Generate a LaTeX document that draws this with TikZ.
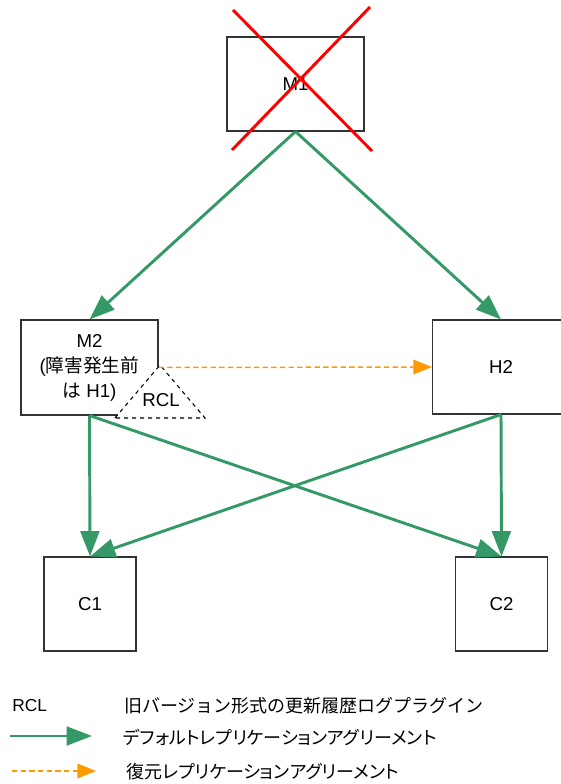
\documentclass[tikz,border=0pt]{standalone}
\usepackage{fontspec}
\setmainfont{Liberation Sans}
\newfontfamily\jpfont[RawFeature=+palt]{Noto Sans CJK JP}
\newfontfamily\jpfontwide{Noto Sans CJK JP}
\usetikzlibrary{arrows.meta}
\definecolor{replgreen}{RGB}{52,153,102}
\definecolor{restoreorange}{RGB}{255,153,0}
\tikzset{
  server/.style={draw=black!80, line width=0.8pt, fill=white, align=center, inner sep=0pt,
    font=\fontsize{14}{18.75}\selectfont},
  repl/.style={-{Triangle[length=19pt, width=14pt]}, draw=replgreen, line width=2.2pt},
  restore/.style={-{Triangle[length=14pt, width=11pt]}, draw=restoreorange, line width=1.1pt, dash pattern=on 4pt off 2.5pt},
  keytext/.style={anchor=west, inner sep=0pt, font=\fontsize{13.5}{16}\selectfont},
}

\begin{document}
\begin{tikzpicture}[x=0.75pt, y=-0.75pt, font=\fontsize{13}{18.75}\selectfont]
  \useasboundingbox (0,0) rectangle (560,784);

  % Servers
  \node[server, minimum width=102.75pt, minimum height=70.5pt] (m1) at (295.5,84) {M1};
  \node[server, minimum width=102.75pt, minimum height=71.25pt] (m2) at (89.5,367.5)
    {M2\\({\jpfontwide 障害発生前}\\{\jpfontwide は} H1)};
  \node[server, minimum width=102.75pt, minimum height=70.5pt] (h2) at (501,367) {H2};
  \node[server, minimum width=69pt, minimum height=70.5pt] (c1) at (90,604) {C1};
  \node[server, minimum width=69pt, minimum height=70.5pt] (c2) at (501.5,604) {C2};

  % M1 is down
  \draw[red, line width=2.2pt] (233,10) -- (372,151);
  \draw[red, line width=2.2pt] (370,7) -- (232,150);

  % RCL plug-in on M2
  \draw[dashed, fill=white, line width=0.8pt] (115,418) -- (160,365) -- (205,418) -- cycle;
  \node[font=\fontsize{14}{16}\selectfont] (rcl) at (161,400) {RCL};

  % Default replication agreements
  \draw[repl] (m1.south) -- (m2.north);
  \draw[repl] (m1.south) -- (h2.north);
  \draw[repl] (m2.south) -- (c1.north);
  \draw[repl] (m2.south) -- (c2.north);
  \draw[repl] (h2.south) -- (c1.north);
  \draw[repl] (h2.south) -- (c2.north);

  % Restore replication agreement
  \draw[restore] (m2.east) -- (h2.west);

  % Legend
  \node[keytext, font=\fontsize{13}{16}\selectfont] (keyrcl) at (12,706) {RCL};
  \node[keytext] (rcltext) at (124,706) {\jpfontwide 旧バージョン形式の更新履歴ログプラグイン};
  \coordinate (replfrom) at (10,736);
  \coordinate (replto) at (92,736);
  \draw[repl] (replfrom) -- (replto);
  \node[keytext] (repltext) at (123,737) {\jpfont デフォルトレプリケーションアグリーメント};
  \coordinate (restorefrom) at (12,771);
  \coordinate (restoreto) at (96,771);
  \draw[restore] (restorefrom) -- (restoreto);
  \node[keytext] (restoretext) at (126,772) {\jpfont 復元レプリケーションアグリーメント};

\end{tikzpicture}
\end{document}
